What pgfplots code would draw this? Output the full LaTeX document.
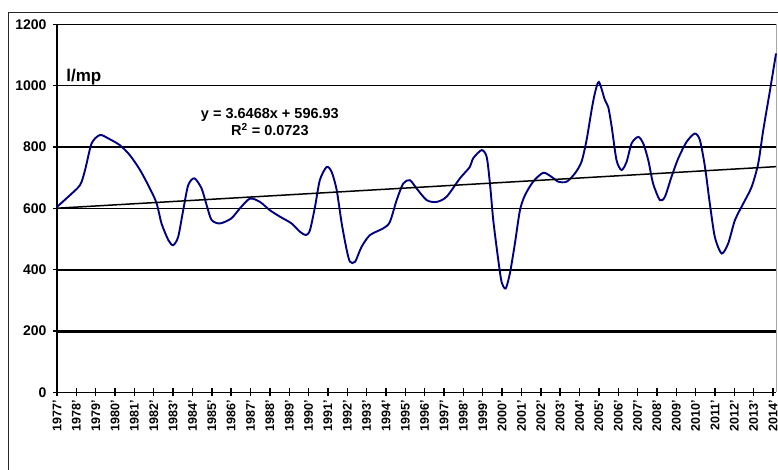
\documentclass[border=0pt]{standalone}
\usepackage{fontspec}
\setmainfont{Liberation Sans}
\usepackage{pgfplots}
\pgfplotsset{compat=1.18}
\definecolor{curveblue}{RGB}{0,0,128}

\begin{document}
\begin{tikzpicture}
\useasboundingbox (0,0) rectangle (778pt,470pt);
% outer chart frame (runs off the right and bottom edge)
\draw[black!85, line width=0.9pt] (8.3pt,-5pt) |- (790pt,457.7pt);

\begin{axis}[
    scale only axis,
    width=719pt, height=368.2pt,
    at={(57pt,77.5pt)}, anchor=south west,
    xmin=1977, xmax=2014.15,
    ymin=0, ymax=1200,
    clip=false,
    axis lines=left,
    axis line style={-, black, line width=1.4pt},
    tick style={black, line width=1.4pt},
    tick align=center,
    major tick length=8pt,
    ytick={0,200,...,1200},
    xtick={1977,...,2014},
    xticklabels={1977',1978',1979',1980',1981',1982',1983',1984',1985',1986',
                 1987',1988',1989',1990',1991',1992',1993',1994',1995',1996',
                 1997',1998',1999',2000',2001',2002',2003',2004',2005',2006',
                 2007',2008',2009',2010',2011',2012',2013',2014'},
    xticklabel style={rotate=90, anchor=east, font=\fontsize{12.5}{14}\selectfont\bfseries},
    yticklabel style={font=\fontsize{14}{16}\selectfont\bfseries, xshift=-3pt},
    /pgf/number format/assume math mode=true,
    /pgf/number format/1000 sep={},
    ymajorgrids,
    grid style={black, line width=1.5pt},
    extra y ticks={200},
    extra y tick labels={},
    extra y tick style={grid style={black, line width=3pt}},
]
% right edge of the plot area
\draw[gray!70, line width=1pt] (rel axis cs:1,0) -- (rel axis cs:1,1);

% annual series (smoothed in the original)
\addplot[curveblue, line width=1.9pt, smooth, tension=0.45] coordinates {
(1977.00,605) (1977.58,638) (1978.19,676) (1978.45,725) (1978.79,812)
(1979.22,839) (1979.65,828) (1980.25,806) (1980.77,773) (1981.29,725)
(1981.80,665) (1982.15,616) (1982.40,551) (1982.75,497) (1983.00,480)
(1983.26,507) (1983.52,594) (1983.78,676) (1984.10,698) (1984.47,665)
(1984.73,611) (1984.99,562) (1985.42,551) (1986.00,567) (1986.45,600)
(1986.97,632) (1987.49,621) (1988.00,594) (1988.52,573) (1989.12,551)
(1989.55,524) (1989.86,513) (1990.07,529) (1990.33,605) (1990.58,692)
(1990.93,735) (1991.19,719) (1991.45,660) (1991.71,551) (1991.97,464)
(1992.14,426) (1992.40,426) (1992.74,475) (1993.17,513) (1993.86,535)
(1994.20,556) (1994.55,627) (1994.89,681) (1995.23,692) (1995.58,665)
(1996.10,627) (1996.61,621) (1997.13,638) (1997.82,698) (1998.33,735)
(1998.50,763) (1998.94,790) (1999.20,768) (1999.37,681) (1999.54,562)
(1999.80,432) (1999.97,361) (2000.18,339) (2000.40,388) (2000.66,486)
(2000.92,594) (2001.18,643) (2001.60,687) (2002.12,716) (2002.55,703)
(2002.90,687) (2003.33,687) (2003.76,714) (2004.10,752) (2004.36,822)
(2004.62,920) (2004.79,975) (2005.00,1012) (2005.31,953) (2005.48,931)
(2005.66,866) (2005.91,757) (2006.17,725) (2006.43,752) (2006.69,812)
(2007.03,833) (2007.29,812) (2007.55,757) (2007.80,681) (2008.15,627)
(2008.41,638) (2008.75,703) (2009.10,763) (2009.53,817) (2009.96,844)
(2010.22,822) (2010.48,735) (2010.73,616) (2010.99,507) (2011.34,453)
(2011.68,486) (2012.03,562) (2012.46,616) (2012.89,670) (2013.23,746)
(2013.49,855) (2013.84,985) (2014.15,1105)
};

% linear trend y = 3.6468x + 596.93 (x = 1 for 1977)
\addplot[black, line width=1.5pt] coordinates {(1977,600.58) (2014.15,736.05)};

\node[anchor=base west, font=\fontsize{17}{19}\selectfont\bfseries]
    at (axis cs:1977.3,1014) {l/mp};
\node[font=\fontsize{14.5}{16}\selectfont\bfseries, align=center]
    at (axis cs:1988.0,880) {y = 3.6468x + 596.93\\[1pt] R\textsuperscript{2} = 0.0723};
\end{axis}
\end{tikzpicture}
\end{document}
